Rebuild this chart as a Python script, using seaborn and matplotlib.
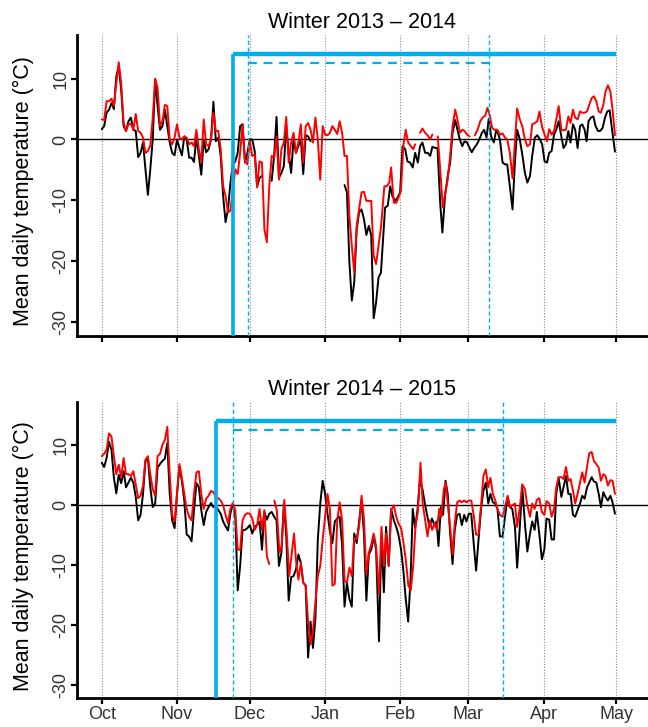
import numpy as np
import pandas as pd
import matplotlib
matplotlib.use("Agg")
import matplotlib.pyplot as plt
import seaborn as sns

nan = np.nan

# ---------------- data (days since 1 October) ----------------
days_b13 = [0, 1, 2, 3, 4, 5, 6, 7, 8, 9,
            10, 11, 12, 13, 14, 15, 16, 17, 18, 19,
            20, 21, 22, 23, 24, 25, 26, 27, 28, 29,
            30, 31, 32, 33, 34, 35, 36, 37, 38, 39,
            40, 41, 42, 43, 44, 45, 46, 47, 48, 49,
            50, 51, 52, 53, 54, 55, 56, 57, 58, 59,
            60, 61, 62, 63, 64, 65, 66, 68, 70, 71,
            72, 73, 74, 75, 76, 77, 78, 79, 80, 81,
            82, 83, 84, 85, 86, 93, 100, 101, 102, 103,
            104, 105, 106, 107, 108, 109, 110, 111, 112, 113,
            114, 115, 116.7, 117.8, 118.8, 119.7, 120.8, 121.8, 122.9, 123.9,
            125.0, 125.9, 127.0, 128.1, 129.1, 130.2, 131.1, 132.1, 133.2, 134.3,
            135.3, 136.2, 137.3, 138.3, 139.4, 140.3, 141.4, 142.5, 143.5, 144.5,
            145.6, 146.5, 147.5, 148.5, 149.4, 150.5, 151.5, 152.4, 153.4, 154.5,
            155.5, 156.6, 157.5, 158.5, 159.4, 160.4, 161.5, 162.5, 163.4, 164.0,
            165.1, 166.1, 167.0, 168.1, 169.2, 170.2, 171.1, 172.2, 173.3, 174.3,
            175.3, 176.4, 177.3, 178.4, 179.4, 180.5, 181.4, 182.4, 183.4, 184.3,
            185.3, 186.3, 187.2, 188.2, 189.3, 190.2, 191.2, 192.2, 193.1, 194.1,
            195.0, 196.0, 197.0, 197.9, 198.9, 199.7, 200.5, 201.5, 202.5, 203.4,
            204.4, 205.3, 206.3, 207.3, 208.2, 209.2, 210.2, 211.4]
temp_b13 = [1.7, 2.2, 4.4, 4.9, 6.0, 5.0, 10.4, 12.0, 8.2, 2.2,
            1.4, 3.0, 3.6, 1.6, 1.4, -2.9, -2.2, -0.5, -4.9, -9.1,
            -4.9, 0.0, 9.8, 5.5, 1.6, 2.2, 4.9, 2.2, -0.5, -2.2,
            -2.6, 0.0, -1.4, -2.6, 0.5, 0.0, -3.0, -3.0, -3.7, 0.5,
            -2.7, -5.8, 0.0, -2.1, -1.6, 0.0, 6.2, -0.3, 0.3, -2.7,
            -9.3, -13.6, -11.5, -7.1, -4.1, -3.6, -2.2, 2.2, 2.5, -3.8,
            -2.2, 0.0, 0.0, -1.9, -7.7, -6.3, -6.0, nan, -6.8, -2.7,
            3.7, -6.3, -5.5, -4.4, 2.2, -2.2, -5.5, 0.0, -2.2, -1.1,
            0.0, -5.7, 0.7, 0.5, -0.3, nan, -7.5, -8.7, -20.2, -26.5,
            -23.5, -14.8, -12.0, -11.5, -13.1, -15.7, -14.2, -15.8, -29.4, -26.8,
            -22.7, -21.9, -11.2, -10.9, -7.7, -9.3, -10.1, -9.6, -8.7, -1.1,
            -1.6, -3.6, -3.8, -4.6, -2.2, -3.8, -1.1, -0.5, -2.2, -2.2,
            -2.7, -1.2, -1.4, -1.4, -10.4, -15.3, -9.3, -6.0, -3.8, 1.1,
            3.2, 1.6, 0.0, -1.1, -0.3, -0.5, -1.4, -2.1, -1.4, -0.8,
            0.0, 1.1, 1.6, 0.3, 3.4, 0.5, -0.5, 1.6, 0.8, 0.0,
            -3.8, -4.1, -4.1, -7.7, -11.5, -3.6, 1.6, 0.0, -2.7, -5.5,
            -7.1, -6.0, -2.7, 0.3, 0.7, 0.0, -0.8, -3.6, -3.8, -2.2,
            -1.9, 0.8, 1.6, 3.0, 0.5, -1.4, -0.8, 1.4, -0.5, 2.5,
            1.6, -1.4, 2.2, 2.5, 1.6, -0.3, 3.0, 3.6, 3.8, 2.2,
            1.4, 1.4, 1.9, 3.6, 4.6, 4.8, 1.6, -2.0]

days_r13 = [0, 1, 2, 3, 4, 5, 6, 7, 8, 9,
            10, 11, 12, 13, 14, 15, 16, 17, 18, 19,
            20, 21, 22, 23, 24, 25, 26, 27, 28, 29,
            30, 31, 32, 33, 34, 35, 36, 37, 38, 39,
            40, 41, 42, 43, 44, 45, 46, 47, 48, 49,
            50, 51, 52, 53, 54, 55, 56, 57, 58, 59,
            60, 61, 62, 63, 64, 65, 66, 67, 68, 69,
            70, 71, 72, 73, 74, 75, 76, 77, 78, 79,
            80, 81, 82, 83, 84, 85, 86, 87, 88, 89,
            90, 91, 92, 93, 94, 95, 96, 97, 98, 99,
            100, 101, 102, 103, 104, 105, 106, 107, 108, 109,
            110, 111, 112, 113, 114, 115, 116.4, 117.4, 118.4, 119.2,
            120.3, 121.3, 122.2, 123.2, 124.3, 125.2, 126.2, 127.3, 128.3, 129.1,
            130.1, 131.1, 132.1, 133.2, 134.2, 135.3, 136.2, 137.3, 138.4, 139.4,
            140.5, 141.4, 142.5, 143.5, 144.5, 145.6, 146.5, 147.5, 148.5, 149.4,
            150.5, 151.5, 152.6, 153.7, 154.8, 155.9, 156.9, 157.9, 158.9, 159.9,
            160.8, 161.8, 162.9, 164.0, 165.1, 166.1, 167.0, 168.1, 169.2, 170.2,
            171.1, 172.2, 173.2, 174.3, 175.3, 176.4, 177.3, 178.4, 179.4, 180.3,
            181.3, 182.4, 183.4, 184.3, 185.3, 186.3, 187.2, 188.2, 189.3, 190.2,
            191.2, 192.2, 193.1, 194.1, 195.0, 196.0, 197.0, 197.9, 198.9, 199.9,
            200.8, 201.8, 202.7, 203.7, 204.7, 205.6, 206.6, 207.5, 208.5, 209.5,
            210.4, 211.4]
temp_r13 = [3.3, 3.2, 6.3, 6.3, 6.7, 5.5, 9.3, 12.7, 9.3, 2.7,
            1.4, 2.5, 2.6, 1.6, 4.2, 1.4, 1.1, 0.3, -2.2, -1.9,
            -1.0, 3.5, 10.0, 8.5, 2.2, 3.0, 5.7, 5.5, 0.0, -0.8,
            0.3, 2.5, 0.3, 0.0, 0.5, 0.3, -0.8, -0.5, -1.1, 1.6,
            -1.6, -3.8, 3.3, -0.8, -1.1, 0.0, 4.4, 1.4, 1.4, -1.6,
            -7.7, -9.3, -12.0, -11.7, -8.2, -4.9, -5.7, -2.2, 2.5, -3.6,
            -4.1, -0.3, -2.7, -2.5, -7.9, -3.6, -3.8, -14.8, -16.9, -7.7,
            -2.7, -3.0, 0.5, -6.6, -1.6, -0.5, 3.7, -3.8, -0.5, 1.1,
            -2.2, -0.5, 2.5, -3.8, 2.2, 2.7, 1.6, -0.5, 3.6, 0.0,
            -6.6, 2.2, 0.8, 0.7, 1.1, 2.2, 1.6, 0.9, 3.0, 1.1,
            -2.7, -2.7, -12.6, -17.5, -21.9, -14.2, -11.5, -8.7, -8.6, -10.1,
            -10.1, -10.1, -19.1, -20.5, -17.5, -14.5, -7.7, -7.7, -7.1, -4.6,
            -10.4, -10.4, -9.6, -8.5, -0.8, 1.6, -0.5, -1.1, -1.6, -0.8,
            nan, 1.1, 1.8, 1.1, 0.7, 0.0, 0.8, nan, 0.5, -4.9,
            -11.2, -9.0, -6.6, -2.7, 2.2, 4.9, 3.3, 1.1, 1.6, 1.4,
            0.8, 0.5, nan, 0.7, 1.6, 3.0, 3.6, 3.9, 5.2, 3.8,
            1.9, 1.6, 1.6, 0.8, 1.0, 0.3, 0.0, -2.2, -6.4, -0.3,
            5.1, 3.3, 2.2, 0.0, -1.1, -0.8, 2.5, 2.7, 3.0, 4.6,
            2.2, 0.8, -0.3, 1.7, 0.8, 1.4, 3.3, 5.5, 1.6, 1.5,
            1.6, 3.8, 2.7, 4.9, 3.6, 3.3, 4.6, 4.4, 4.4, 4.6,
            5.7, 6.8, 7.1, 6.3, 4.6, 4.4, 5.7, 7.9, 8.9, 7.9,
            4.9, 0.7]

days_b14 = [0, 1, 2, 3, 4, 5, 6, 7, 8, 9,
            10, 11, 12, 13, 14, 15, 16, 17, 18, 19,
            20, 21, 22, 23, 24, 25, 26, 27, 28, 29,
            30, 31, 32, 33, 34, 35, 36, 37, 38, 39,
            40, 41, 42, 43, 44, 45, 46, 47, 48, 49,
            50, 51, 52, 53, 54, 55, 56, 57, 58, 59,
            60, 61, 62, 63, 64, 65, 66, 67, 68, 69,
            70, 71, 72, 73, 74, 75, 76, 77, 78, 79,
            80, 81, 82, 83, 84, 85, 86, 87, 88, 89,
            90, 91, 92, 93, 94, 95, 96, 97, 98, 99,
            100, 101, 102, 103, 104, 105, 106, 107, 108, 109,
            110, 111, 112, 113, 114.2, 115.2, 116.2, 117.1, 118.2, 119.2,
            120.3, 121.3, 122.2, 123.3, 124.3, 125.2, 126.2, 127.2, 128.1, 129.1,
            130.1, 131.1, 132.1, 133.1, 134.0, 135.0, 136.0, 137.0, 137.9, 138.7,
            139.7, 140.6, 141.6, 142.5, 143.5, 144.5, 145.4, 146.4, 147.4, 148.3,
            149.3, 150.2, 151.2, 152.2, 153.3, 154.2, 155.2, 156.3, 157.2, 158.2,
            159.2, 160.1, 161.1, 162.1, 163.0, 164.0, 165.1, 166.1, 167.2, 168.1,
            169.1, 170.2, 171.1, 172.2, 173.2, 174.3, 175.3, 176.4, 177.3, 178.3,
            179.2, 180.2, 181.3, 182.3, 183.2, 184.3, 185.3, 186.3, 187.2, 188.2,
            189.3, 190.2, 191.2, 192.2, 193.1, 194.1, 195.0, 196.0, 197.0, 197.9,
            198.9, 199.9, 200.8, 201.8, 202.7, 203.7, 204.7, 205.6, 206.6, 207.5,
            208.5, 209.5, 210.4, 211.4]
temp_b14 = [7.0, 6.3, 7.8, 10.5, 9.2, 4.5, 1.9, 5.0, 3.6, 5.6,
            2.9, 3.7, 4.5, 3.7, 1.3, -2.6, -1.7, 1.8, 7.3, 7.8,
            2.9, -0.4, 0.2, 6.2, 6.8, 7.3, 7.7, 10.3, 1.8, -2.6,
            -3.9, 1.8, 6.4, 4.0, 0.7, -5.0, -5.3, -6.1, -0.9, 3.6,
            2.9, -0.9, -3.4, -1.2, -0.4, 0.3, -0.4, -0.1, -0.9, -1.5,
            -2.8, -3.6, -4.3, -1.5, 0.2, -2.0, -14.3, -10.2, -4.2, -4.2,
            -3.9, -3.4, -4.8, -3.7, -3.4, -2.8, -7.5, -1.2, -2.5, -1.5,
            -1.2, -2.0, -2.6, -10.2, -8.0, 0.2, -5.3, -16.0, -12.1, -11.9,
            -10.8, -8.3, -9.7, -13.0, -13.5, -25.5, -19.5, -23.9, -19.0, -5.8,
            0.2, 4.0, 1.8, -1.5, -4.5, -6.4, -2.8, -2.3, -2.0, -6.7,
            -17.0, -13.0, -15.7, -17.0, -4.8, -6.4, -2.8, 0.7, -4.8, -16.0,
            -8.3, -7.5, -5.3, -7.5, -22.8, -5.3, -14.6, -3.7, -10.2, -0.7,
            -2.6, -3.7, -5.0, -7.5, -11.3, -15.7, -19.5, -12.4, -0.7, -3.9,
            -0.7, 4.3, 2.6, 0.2, -1.7, -3.7, -2.3, -3.4, -2.8, -6.9,
            -0.4, -1.7, 4.0, 1.8, -4.8, -9.9, -4.2, -1.7, -1.5, -3.4,
            -1.7, -2.8, -1.5, -1.5, -6.9, -11.0, -5.8, -0.4, 2.3, 3.7,
            0.2, 1.8, 0.4, 0.2, -0.7, -5.3, -5.3, -2.0, 1.3, -0.4,
            -0.7, -3.7, -10.5, -3.7, 2.9, -3.1, -7.8, -4.8, -2.8, -4.2,
            -1.2, -4.8, -9.1, -7.5, -2.3, -2.5, -5.8, -5.8, 1.8, 4.5,
            1.3, 2.9, 4.8, 1.8, 1.8, -1.7, -2.0, -0.9, 0.2, 1.5,
            1.0, 2.9, 3.7, 4.6, 3.9, 3.7, 1.8, -0.4, 2.1, 1.3,
            0.7, 1.5, 0.4, -1.5]

days_r14 = [0, 1, 2, 3, 4, 5, 6, 7, 8, 9,
            10, 11, 12, 13, 14, 15, 16, 17, 18, 19,
            20, 21, 22, 23, 24, 25, 26, 27, 28, 29,
            30, 31, 32, 33, 34, 35, 36, 37, 38, 39,
            40, 41, 42, 43, 44, 45, 46, 47, 48, 49,
            50, 51, 52, 53, 54, 55, 56, 57, 58, 59,
            60, 61, 62, 63, 64, 65, 66, 67, 68, 69,
            70, 71.1, 72.1, 73.2, 74.1, 75.2, 76.2, 77.2, 78.3, 79.2,
            80, 81, 82, 83, 84, 85, 86, 87, 88, 89,
            90, 91, 92, 93, 94, 95, 96, 97, 98, 99,
            100, 101, 102, 103, 104, 105, 106, 107, 108, 109,
            110, 111, 112, 113, 114.2, 115.2, 116.2, 117.1, 118.2, 119.2,
            120.3, 121.3, 122.2, 123.3, 124.3, 125.2, 126.3, 127.3, 128.3, 129.2,
            130.2, 131.3, 132.2, 133.2, 134.2, 135.1, 136.1, 137.1, 138.0, 139.0,
            139.9, 140.9, 141.7, 142.7, 143.6, 144.5, 145.4, 146.4, 147.4, 148.3,
            149.3, 150.2, 151.2, 152.2, 153.3, 154.2, 155.2, 156.3, 157.2, 158.2,
            159.2, 160.1, 161.1, 162.1, 163.0, 164.0, 165.1, 166.1, 167.2, 168.1,
            169.1, 170.2, 171.1, 172.2, 173.2, 174.3, 175.3, 176.4, 177.3, 178.3,
            179.2, 180.2, 181.3, 182.3, 183.2, 184.3, 185.3, 186.3, 187.2, 188.2,
            189.3, 190.2, 191.2, 192.2, 193.1, 194.1, 195.0, 196.0, 197.0, 197.9,
            198.9, 199.9, 200.8, 201.8, 202.7, 203.7, 204.7, 205.6, 206.6, 207.5,
            208.5, 209.5, 210.4, 211.4]
temp_r14 = [8.1, 8.5, 9.2, 11.9, 11.4, 8.1, 5.1, 6.7, 4.5, 7.8,
            5.1, 5.1, 4.8, 5.6, 3.4, 1.1, 1.5, 3.2, 7.5, 8.1,
            5.1, 2.6, 1.5, 8.1, 8.5, 10.0, 10.8, 13.0, 5.1, -1.7,
            -2.8, 1.8, 6.8, 4.5, 1.8, -0.7, -2.0, -2.6, 1.8, 5.4,
            5.6, 1.8, -0.7, 1.0, 1.5, 2.3, 2.1, 1.3, 1.1, 0.7,
            -0.1, -1.7, -3.1, -0.7, 0.3, -0.9, -7.5, -7.5, -2.6, -1.7,
            -1.4, -1.5, -2.3, -4.2, -3.4, -0.7, -4.2, -0.9, -8.6, -9.9,
            nan, 0.7, -0.9, -8.0, -6.9, 0.8, -4.8, -11.9, -8.0, -4.8,
            -9.2, -12.5, -9.7, -13.0, -13.5, -19.5, -23.3, -21.1, -16.2, -11.9,
            -10.2, -5.8, -2.0, 1.8, -0.9, -13.5, -13.2, -2.6, 0.4, -2.6,
            -12.7, -13.0, -10.5, -11.9, -5.6, -5.8, -3.7, 1.5, -2.3, -11.6,
            -8.0, -6.7, -4.8, -6.9, -14.9, -3.7, -10.2, -4.8, -10.2, -0.9,
            -0.1, -2.0, -3.1, -3.9, -6.4, -9.1, -13.5, -14.3, -10.2, -3.7,
            -1.2, 7.0, 0.2, -2.6, -5.3, -2.6, -4.2, -3.1, -4.2, -0.7,
            -2.0, 2.6, 3.7, -0.4, -4.2, -8.3, -3.1, 0.4, 0.7, 0.4,
            0.7, 0.4, 0.7, 0.7, -2.0, -5.0, -5.0, 0.2, 4.8, 5.9,
            2.9, 4.5, 1.8, 0.7, -0.7, -1.7, -2.0, -0.4, 1.5, -0.4,
            -0.1, 0.2, -3.7, -0.4, 3.4, 2.6, -0.1, -2.0, 0.2, -0.7,
            0.8, 1.1, -1.2, -1.7, 0.6, 0.2, -2.0, -0.7, 2.9, 4.6,
            4.6, 4.3, 6.3, 4.0, 4.3, 2.3, 0.2, 1.8, 3.7, 5.4,
            3.7, 6.4, 8.6, 8.8, 7.3, 6.8, 6.2, 4.0, 5.1, 4.8,
            3.2, 4.1, 4.0, 1.8]

month_days = [0, 31, 61, 92, 123, 151, 182, 212]
month_labels = ["Oct", "Nov", "Dec", "Jan", "Feb", "Mar", "Apr", "May"]
y_ticks = [-30, -20, -10, 0, 10]
titles = ["Winter 2013 \u2013 2014", "Winter 2014 \u2013 2015"]

# winter period markers (days since 1 October) and levels (°C)
solid_start = [54.1, 47.1]
dashed_start = [60.4, 54.2]
dashed_end = [159.4, 165.4]
period_end = [212, 212]
solid_level = 14.0
dashed_level = 12.5

# ---------------- style ----------------
sns.set_style("ticks")
plt.rcParams["font.family"] = ["Liberation Sans", "DejaVu Sans"]

BLUE = "#00AEEF"
YMIN, YMAX = -32.3, 17.2
XMIN, XMAX = -10.2, 225.0


def to_frame(days, temps):
    seg, rows = 0, []
    for d, t in zip(days, temps):
        if np.isnan(t):
            seg += 1
            continue
        rows.append((d, t, seg))
    return pd.DataFrame(rows, columns=["day", "temp", "seg"])


fig = plt.figure(figsize=(6.48, 7.27), dpi=100)
axes = [fig.add_axes([0.1188, 0.5380, 0.8812, 0.4140]),
        fig.add_axes([0.1188, 0.0395, 0.8812, 0.4080])]

series = [((days_b13, temp_b13), (days_r13, temp_r13)),
          ((days_b14, temp_b14), (days_r14, temp_r14))]

for i, ax in enumerate(axes):
    ax.set_xlim(XMIN, XMAX)
    ax.set_ylim(YMIN, YMAX)
    for d in month_days:
        ax.axvline(d, color="#8a8a8a", lw=0.8, ls=(0, (1, 1.5)), zorder=1)
    ax.axhline(0, color="black", lw=1.0, zorder=2)

    (bd, bt), (rd, rt) = series[i]
    sns.lineplot(data=to_frame(bd, bt), x="day", y="temp", units="seg",
                 estimator=None, sort=False, color="black", lw=1.4,
                 ax=ax, legend=False, zorder=3)
    sns.lineplot(data=to_frame(rd, rt), x="day", y="temp", units="seg",
                 estimator=None, sort=False, color="#FF0000", lw=1.4,
                 ax=ax, legend=False, zorder=4)

    # period markers
    ax.plot([solid_start[i], solid_start[i]], [YMIN, solid_level],
            color=BLUE, lw=2.6, solid_capstyle="butt", zorder=6)
    ax.plot([solid_start[i], period_end[i]], [solid_level, solid_level],
            color=BLUE, lw=3.2, solid_capstyle="butt", zorder=6)
    for xv in (dashed_start[i], dashed_end[i]):
        ax.plot([xv, xv], [YMIN, YMAX], color=BLUE, lw=1.0,
                ls=(0, (3, 2)), zorder=6)
    ax.plot([dashed_start[i], dashed_end[i]], [dashed_level, dashed_level],
            color=BLUE, lw=1.6, ls=(0, (4, 3)), zorder=6)

    for s in ("top", "right"):
        ax.spines[s].set_visible(False)
    for s in ("left", "bottom"):
        ax.spines[s].set_linewidth(2.0)
        ax.spines[s].set_color("black")

    ax.set_xticks(month_days)
    ax.set_xticklabels(month_labels)
    ax.set_yticks(y_ticks)
    ax.set_yticklabels([str(v) for v in y_ticks])
    ax.tick_params(axis="both", direction="out", length=4, width=1.6,
                   color="black", labelsize=13, labelcolor="#333333", pad=1.5)
    ax.tick_params(axis="y", labelrotation=90)
    for lbl in ax.get_yticklabels():
        lbl.set_va("center")
    if i == 0:
        ax.tick_params(axis="x", labelbottom=False)

    ax.set_xlabel("")
    ax.set_ylabel("Mean daily temperature (\u00b0C)", fontsize=15.5,
                  color="black")
    ax.yaxis.set_label_coords(-0.075, 0.48)
    ax.set_title(titles[i], fontsize=15.5, pad=5, color="black")

fig.savefig("out.png", dpi=100)
